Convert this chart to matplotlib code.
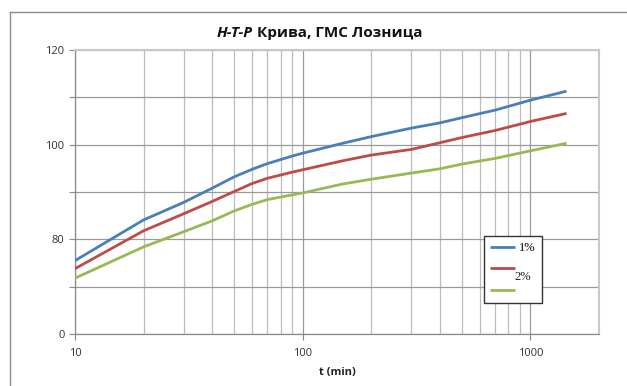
import matplotlib
matplotlib.use("Agg")
import matplotlib.pyplot as plt
from matplotlib.lines import Line2D
from matplotlib.ticker import FixedLocator, NullFormatter

plt.rcParams['font.family'] = ['Open Sans', 'DejaVu Sans']

t = [10, 20, 30, 40, 50, 60, 70, 90, 100, 150, 200, 300, 400, 500, 700, 1000, 1440]
p1 = [75.5, 84.1, 87.8, 90.8, 93.2, 94.8, 96.0, 97.6, 98.2, 100.3, 101.7, 103.5, 104.6, 105.7, 107.3, 109.4, 111.3]
p2 = [73.8, 81.8, 85.4, 88.0, 90.1, 91.8, 92.9, 94.2, 94.7, 96.6, 97.8, 99.0, 100.4, 101.5, 103.0, 104.9, 106.6]
p3 = [71.8, 78.4, 81.6, 83.9, 86.0, 87.4, 88.4, 89.4, 89.8, 91.7, 92.7, 94.0, 94.9, 95.9, 97.1, 98.7, 100.3]
series_labels = ['1%', '2%', '']
colors = ['#4a7ebb', '#be4b48', '#98b954']
y_ticks = [60, 70, 80, 90, 100, 110, 120]
y_ticklabels = ['0', '', '80', '', '100', '', '120']
x_ticks = [10, 100, 1000]
x_ticklabels = ['10', '100', '1000']
title_a = 'H-T-P'
title_b = ' Крива, ГМС Лозница'
xlabel = 't (min)'

W, H = 627, 386
fig = plt.figure(figsize=(W / 100, H / 100), dpi=100)
ax = fig.add_axes([75 / W, 1 - 334 / H, (599 - 75) / W, (334 - 50) / H])

lines = []
for y, c in zip([p1, p2, p3], colors):
    ln, = ax.plot(t, y, color=c, lw=2.0, solid_capstyle='butt', solid_joinstyle='round', zorder=3)
    lines.append(ln)

ax.set_xscale('log')
ax.set_xlim(10, 2000)
ax.set_ylim(60, 120)
ax.set_yticks(y_ticks)
ax.set_yticklabels(y_ticklabels)
ax.set_xticks(x_ticks)
ax.set_xticklabels(x_ticklabels)
minors = [m * d for d in (10, 100) for m in range(2, 10)] + [2000]
ax.xaxis.set_minor_locator(FixedLocator(minors))
ax.xaxis.set_minor_formatter(NullFormatter())
ax.grid(True, which='major', axis='both', color='#9a9a9a', lw=0.9)
ax.grid(True, which='minor', axis='x', color='#bcbcbc', lw=0.9)
ax.set_axisbelow(True)
ax.tick_params(axis='both', which='major', labelsize=8, colors='#888888', labelcolor='#333333', length=4, width=0.8)
ax.tick_params(axis='x', which='minor', length=0)
ax.tick_params(axis='x', which='major', pad=6)
for s in ['left', 'bottom']:
    ax.spines[s].set_color('#8a8a8a')
    ax.spines[s].set_linewidth(0.9)
for s in ['top', 'right']:
    ax.spines[s].set_color('#c8c8c8')
    ax.spines[s].set_linewidth(1.5)

ax.set_xlabel(xlabel, fontsize=8, fontweight='bold', color='#222222', labelpad=6)

# title in two styles
ta = fig.text(217 / W, 1 - 33 / H, title_a, fontsize=11, fontweight='bold', style='italic',
              ha='left', va='center', color='#111111')
fig.canvas.draw()
bb = ta.get_window_extent()
fig.text(bb.x1 / W, 1 - 33 / H, title_b, fontsize=11, fontweight='bold',
         ha='left', va='center', color='#111111')

# legend
leg = ax.legend(lines, [series_labels[0], '', ''], loc='upper left',
                bbox_to_anchor=(484 / W, 1 - 236 / H), bbox_transform=fig.transFigure,
                borderaxespad=0, fancybox=False, framealpha=1, edgecolor='#333333',
                prop={'family': 'Liberation Serif', 'size': 9}, handlelength=2.0,
                labelspacing=0.75, handletextpad=0.3, borderpad=0.5)
leg.get_frame().set_linewidth(1.0)
fig.text(514 / W, 1 - 277 / H, series_labels[1], fontsize=9, family='Liberation Serif',
         ha='left', va='center', color='#222222')

# outer chart frame (cropped)
fig.add_artist(Line2D([9.5 / W, 9.5 / W], [1 - 12 / H, 0], transform=fig.transFigure, color='#8c8c8c', lw=1.0))
fig.add_artist(Line2D([9.5 / W, 1], [1 - 12 / H, 1 - 12 / H], transform=fig.transFigure, color='#8c8c8c', lw=1.0))

fig.savefig('out.png', dpi=100)
